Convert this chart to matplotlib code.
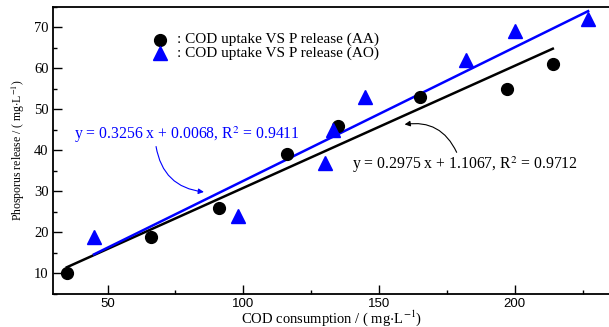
import matplotlib
matplotlib.use("Agg")
import matplotlib.pyplot as plt
from matplotlib.ticker import MultipleLocator

plt.rcParams['font.family'] = ['Liberation Serif', 'DejaVu Serif']
plt.rcParams['mathtext.fontset'] = 'stix'

# AA: COD uptake vs P release
aa_cod = [35, 66, 91, 116, 135, 165, 197, 214]
aa_p = [10, 19, 26, 39, 46, 53, 55, 61]
# AO: COD uptake vs P release
ao_cod = [45, 98, 130, 133, 145, 182, 200, 227]
ao_p = [19, 24, 37, 45, 53, 62, 69, 72]

aa_fit = (0.2975, 1.1067, 0.9712)
ao_fit = (0.3256, 0.0068, 0.9411)
labels = [': COD uptake VS P release (AA)', ': COD uptake VS P release (AO)']

fig = plt.figure(figsize=(6.09, 3.27), dpi=100)
ax = fig.add_axes([0.0875, 0.1009, 0.9125, 0.8786])

# fitted lines across the data range
x0, x1 = min(aa_cod), max(aa_cod)
ax.plot([x0, x1], [aa_fit[0] * x0 + aa_fit[1], aa_fit[0] * x1 + aa_fit[1]],
        color='black', lw=1.8, zorder=2)
x0, x1 = min(ao_cod), max(ao_cod)
ax.plot([x0, x1], [ao_fit[0] * x0 + ao_fit[1], ao_fit[0] * x1 + ao_fit[1]],
        color='#0000ff', lw=1.8, zorder=2)

ax.plot(aa_cod, aa_p, 'o', color='black', ms=8.5, ls='none', zorder=3)
ax.plot(ao_cod, ao_p, '^', color='#0000ff', ms=10, ls='none', zorder=3)

# hand made legend (no frame)
ax.plot([0.192], [0.885], 'o', color='black', ms=8.5, transform=ax.transAxes, clip_on=False)
ax.plot([0.192], [0.838], '^', color='#0000ff', ms=10, transform=ax.transAxes, clip_on=False)
ax.text(0.222, 0.885, labels[0], transform=ax.transAxes, fontsize=11, va='center')
ax.text(0.222, 0.838, labels[1], transform=ax.transAxes, fontsize=11, va='center')

# equations with curved arrows
ax.text(37.8, 43.7, 'y = %.4f x + %.4f, R$^2$ = %.4f' % ao_fit, color='#0000ff',
        fontsize=11.3, ha='left', va='center')
ax.annotate('', xy=(86.5, 29.8), xytext=(67.7, 41.6),
            arrowprops=dict(arrowstyle='-|>', color='#0000ff', lw=0.8,
                            connectionstyle='arc3,rad=0.4', mutation_scale=8))
ax.text(140, 36.4, 'y = %.4f x + %.4f, R$^2$ = %.4f' % aa_fit, color='black',
        fontsize=11.3, ha='left', va='center')
ax.annotate('', xy=(158.4, 46.2), xytext=(179, 38.9),
            arrowprops=dict(arrowstyle='-|>', color='black', lw=0.8,
                            connectionstyle='arc3,rad=0.4', mutation_scale=8))

ax.set_xlim(30, 234.7)
ax.set_ylim(5, 75)
ax.xaxis.set_major_locator(MultipleLocator(50))
ax.xaxis.set_minor_locator(MultipleLocator(25))
ax.yaxis.set_major_locator(MultipleLocator(10))
ax.yaxis.set_minor_locator(MultipleLocator(5))
ax.tick_params(which='both', direction='in', top=False, right=False)
ax.tick_params(which='major', length=6.5, width=1)
ax.tick_params(which='minor', length=3, width=1)
ax.tick_params(axis='y', labelsize=10.5)
ax.tick_params(axis='x', pad=3)
for lab in ax.get_xticklabels():
    lab.set_fontfamily('Liberation Sans')
    lab.set_fontsize(9.5)
ax.spines['right'].set_visible(False)
for s in ['left', 'bottom', 'top']:
    ax.spines[s].set_linewidth(1.3)

ax.set_xlabel('COD consumption / ( mg$\\cdot$L$^{-1}$)', fontsize=10.5, labelpad=-1)
ax.set_ylabel('Phosporus release / ( mg$\\cdot$L$^{-1}$)', fontsize=8.5, labelpad=5)

fig.savefig('out.png', dpi=100)
